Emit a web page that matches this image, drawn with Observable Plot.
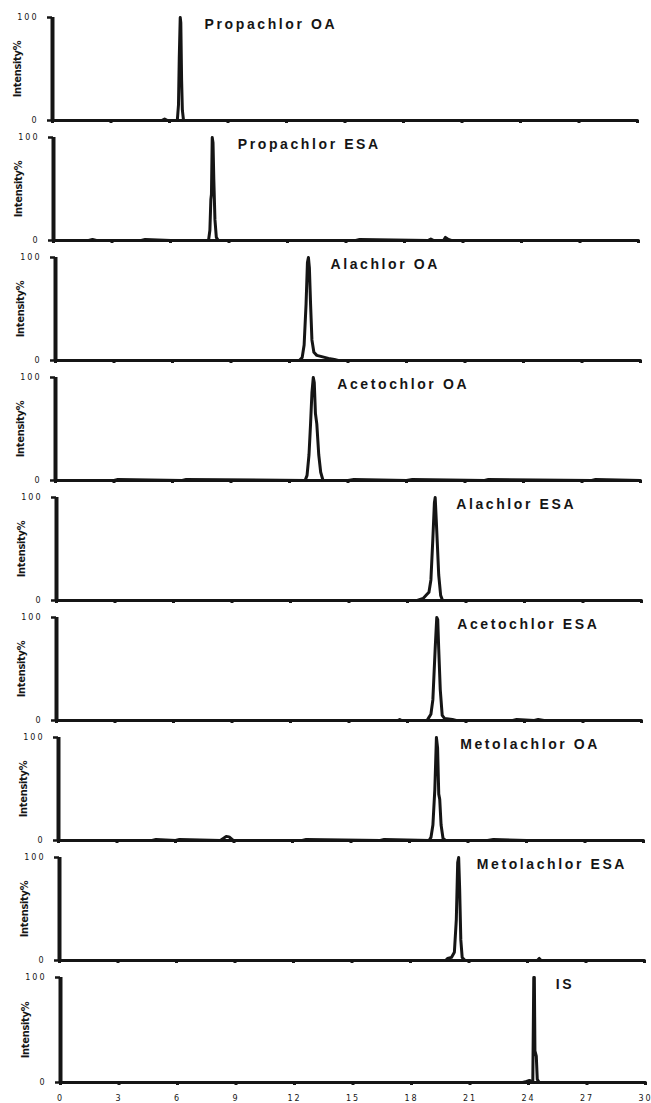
<!DOCTYPE html>
<html><head><meta charset="utf-8">
<script src="https://cdn.jsdelivr.net/npm/d3@7"></script>
<script src="https://cdn.jsdelivr.net/npm/@observablehq/plot@0.6"></script>
<style>
body{margin:0;background:#fff;}
#chart{position:relative;width:651px;height:1103px;}
#chart > svg{position:absolute;left:0;}
</style></head><body><div id="chart"></div>
<script>
// Compound names (panel titles), top to bottom
const compounds = ["Propachlor OA","Propachlor ESA","Alachlor OA","Acetochlor OA","Alachlor ESA","Acetochlor ESA","Metolachlor OA","Metolachlor ESA","IS"];
// Retention time (min) at which each title label begins
const labelTime = [7.8, 9.45, 14.1, 14.45, 20.5, 20.55, 20.6, 21.4, 25.4];
// Axis ticks
const timeTicks = [0,3,6,9,12,15,18,21,24,27,30];
const intensityTicks = [0,100];
const yLabel = "Intensity%";

// Chromatogram traces: retention time (min) and relative intensity (%)
const tPropachlorOA = [0,2.0,4.2,5.6,5.75,5.9,6.4,6.46,6.5,6.55,6.58,6.62,6.66,6.72,9.5,14,19,24,30];
const iPropachlorOA = [0,0,0,0,1.5,0,0,15,60,100,95,40,10,0,0,0,0,0,0];

const tPropachlorESA = [0,1.8,2.0,2.2,4.5,4.7,6.0,7.95,8.02,8.07,8.1,8.14,8.18,8.22,8.28,8.35,8.45,12,15.5,15.7,19.2,19.35,19.5,20.0,20.1,20.25,20.4,25,30];
const iPropachlorESA = [0,0,1,0,0,1,0,0,10,40,45,100,95,60,20,3,0,0,0,1,0,1.5,0,0,3,1,0,0,0];

const tAlachlorOA = [0,12.5,12.65,12.75,12.85,12.92,12.97,13.02,13.08,13.15,13.25,13.4,13.6,13.8,14.0,14.3,14.5,30];
const iAlachlorOA = [0,0,3,15,55,95,100,90,55,20,8,5,4,3,2,1,0,0];

const tAcetochlorOA = [0,3,3.2,6.5,6.7,12.8,12.9,13.0,13.08,13.15,13.22,13.27,13.33,13.4,13.5,13.6,13.72,15,15.3,18,18.3,22,22.2,27.5,27.7,30];
const iAcetochlorOA = [0,0,1,0,1,0,5,25,55,85,100,95,65,55,25,8,0,0,1,0,1,0,1,0,1,0];

const tAlachlorESA = [0,18.5,18.8,19.0,19.1,19.2,19.3,19.38,19.42,19.47,19.53,19.6,19.7,19.8,30];
const iAlachlorESA = [0,0,2,6,8,20,60,95,100,80,55,25,5,0,0];

const tAcetochlorESA = [0,17.5,17.6,17.7,19.0,19.1,19.2,19.3,19.42,19.5,19.55,19.6,19.68,19.78,19.9,20.3,20.5,23.4,23.6,24.5,24.7,25.0,30];
const iAcetochlorESA = [0,0,1,0,0,3,6,20,70,100,98,70,30,5,2,1,0,0,1,0,1,0,0];

const tMetolachlorOA = [0,4.8,5.0,6.0,6.2,8.3,8.45,8.6,8.75,8.9,9.0,12.5,12.7,16.5,16.7,19.0,19.1,19.2,19.3,19.38,19.44,19.5,19.55,19.62,19.72,19.85,22,22.3,24,30];
const iMetolachlorOA = [0,0,1,0,1,0,2,4,3.5,1,0,0,1,0,1,0,3,15,50,100,90,45,40,15,2,0,0,1,0,0];

const tMetolachlorESA = [0,19.8,19.9,20.1,20.25,20.35,20.42,20.47,20.52,20.58,20.65,20.8,24.5,24.6,24.7,30];
const iMetolachlorESA = [0,0,2,3,8,40,95,100,70,20,3,0,0,2,0,0];

const tIS = [0,23.7,23.9,24.05,24.15,24.22,24.27,24.3,24.33,24.4,24.45,24.55,30];
const iIS = [0,0,1,2,1,0,100,100,30,25,3,0,0];

const traceTimes = [tPropachlorOA,tPropachlorESA,tAlachlorOA,tAcetochlorOA,tAlachlorESA,tAcetochlorESA,tMetolachlorOA,tMetolachlorESA,tIS];
const traceIntensities = [iPropachlorOA,iPropachlorESA,iAlachlorOA,iAcetochlorOA,iAlachlorESA,iAcetochlorESA,iMetolachlorOA,iMetolachlorESA,iIS];

// Layout (the scanned figure is slightly skewed: left edge drifts right going down)
const originX = [52,53,55,55,56,56,58,59,60];
const plotW = 585;
const ink = "#151515";
const chart = document.getElementById("chart");

compounds.forEach((name, i) => {
  const last = i === compounds.length - 1;
  const data = traceTimes[i].map((t, k) => ({t, v: traceIntensities[i][k]}));
  const ml = originX[i];
  const svg = Plot.plot({
    width: 651,
    height: last ? 143 : 120,
    marginTop: 17,
    marginBottom: last ? 21 : 0,
    marginLeft: ml,
    marginRight: 651 - ml - plotW,
    style: {background: "transparent", overflow: "visible", color: ink},
    x: {domain: [0, 30], axis: null},
    y: {domain: [0, 100], axis: null},
    marks: [
      Plot.axisX({ticks: timeTicks, tickSize: 3, strokeWidth: 3, tickPadding: 10, label: null,
        tickFormat: last ? (d => String(d)) : (() => ""), fontSize: 8, fontFamily: "DejaVu Sans", fill: ink}),
      Plot.axisY({ticks: intensityTicks, tickSize: 5, strokeWidth: 2.5, tickPadding: 9, label: null,
        fontSize: 8, fontFamily: "DejaVu Sans", fill: ink}),
      Plot.ruleY([0], {strokeWidth: 3, stroke: ink}),
      Plot.ruleX([0], {y1: 0, y2: 100, strokeWidth: 4, stroke: ink}),
      Plot.line(data, {x: "t", y: "v", stroke: ink, strokeWidth: 3, strokeLinejoin: "round"}),
      Plot.text([name], {x: labelTime[i], y: 100, text: d => d, textAnchor: "start", lineAnchor: "top", dy: 1.5,
        fontSize: 14, fontWeight: "bold", fontFamily: "Liberation Sans, Arial, sans-serif", fill: ink}),
      Plot.text([yLabel], {x: 0, y: 50, text: d => d, dx: -35, rotate: -90, textAnchor: "middle", fontSize: 11,
        fontWeight: "bold", fontFamily: "Liberation Sans Narrow, DejaVu Sans Condensed, sans-serif", fill: ink})
    ]
  });
  svg.style.top = (i * 120) + "px";
  d3.select(svg).selectAll("text").filter(function(){ return this.textContent === name; })
    .style("letter-spacing", "2.6px");
  d3.select(svg).selectAll("text").filter(function(){ return /^\d+$/.test(this.textContent); })
    .style("letter-spacing", "2px");
  d3.select(svg).selectAll("text").filter(function(){ return this.textContent === yLabel; })
    .style("letter-spacing", "-0.3px");
  chart.appendChild(svg);
});
</script>
</body></html>
